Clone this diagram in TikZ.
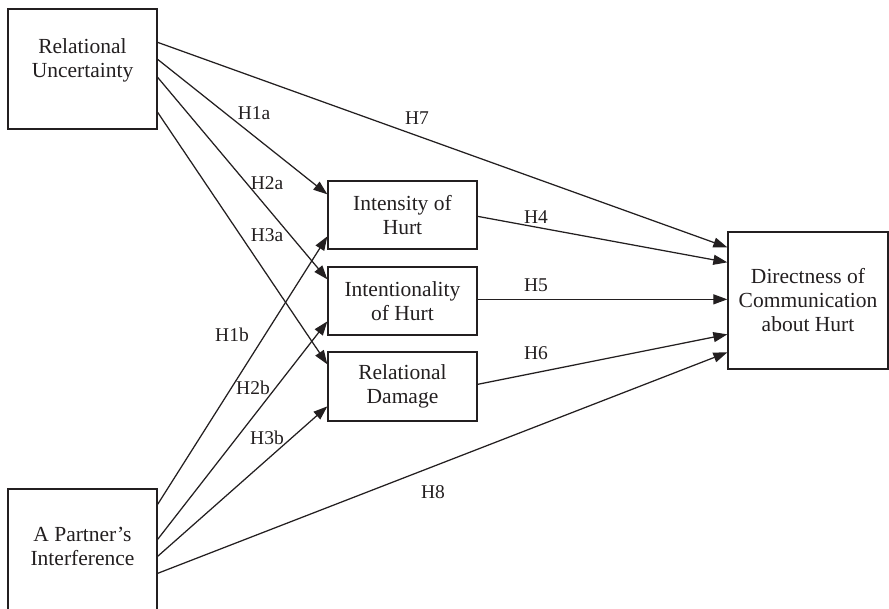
\documentclass[tikz,border=0pt]{standalone}
\usepackage{fontspec}
\setmainfont{Liberation Serif}
\usetikzlibrary{arrows.meta,calc}
\definecolor{ink}{HTML}{231F20}
\begin{document}
\begin{tikzpicture}[x=1pt,y=-1pt,
  box/.style={draw=ink,line width=1.3pt,minimum width=149pt,inner sep=0pt,align=center,text=ink,font=\fontsize{21.5}{24}\selectfont},
  btext/.style={align=center,text=ink,inner sep=0pt,font=\fontsize{21.5}{24}\selectfont},
  conn/.style={draw=ink,line width=1.25pt,-{Triangle[length=14pt,width=10pt]}},
  hlab/.style={font=\fontsize{19.5}{22}\selectfont,text=ink,inner sep=0pt}]
\useasboundingbox (0,0) rectangle (889,608);
% boxes
\node[box,minimum height=120pt] (ru) at (82.5,69) {};
\node[btext] (rut) at (82.5,60) {Relational\\Uncertainty};
\node[box,minimum height=122pt] (pi) at (82.5,550) {};
\node[btext] (pit) at (82.5,546) {A Partner’s\\Interference};
\node[box,minimum height=68pt] (int) at (402.5,215) {Intensity of\\Hurt};
\node[box,minimum height=68pt] (ion) at (402.5,301) {Intentionality\\of Hurt};
\node[box,minimum height=69pt] (dam) at (402.5,386.5) {Relational\\Damage};
\node[box,minimum width=160pt,minimum height=137pt] (dir) at (808,300.5) {Directness of\\Communication\\about Hurt};
% connectors from Relational Uncertainty
\draw[conn] ($(ru.north east)+(0,34)$) -- ($(dir.north west)+(0,16)$);
\draw[conn] ($(ru.north east)+(0,51)$) -- ($(int.north west)+(0,14)$);
\draw[conn] ($(ru.north east)+(0,69)$) -- ($(ion.north west)+(0,13)$);
\draw[conn] ($(ru.north east)+(0,104)$) -- ($(dam.north west)+(0,13)$);
% connectors from A Partner's Interference
\draw[conn] ($(pi.north east)+(0,16)$) -- ($(int.north west)+(0,56)$);
\draw[conn] ($(pi.north east)+(0,51)$) -- ($(ion.north west)+(0,55)$);
\draw[conn] ($(pi.north east)+(0,68)$) -- ($(dam.north west)+(0,55)$);
\draw[conn] ($(pi.north east)+(0,85)$) -- ($(dir.north west)+(0,121)$);
% mediators to outcome
\draw[conn] ($(int.north east)+(0,36)$) -- ($(dir.north west)+(0,31)$);
\draw[conn] ($(ion.north east)+(0,33)$) -- ($(dir.north west)+(0,68)$);
\draw[conn] ($(dam.north east)+(0,33)$) -- ($(dir.north west)+(0,103)$);
% labels
\node[hlab] (h1a) at (254,113) {H1a};
\node[hlab] (h2a) at (267,183) {H2a};
\node[hlab] (h3a) at (267,235) {H3a};
\node[hlab] (h1b) at (232,335) {H1b};
\node[hlab] (h2b) at (253,388) {H2b};
\node[hlab] (h3b) at (267,438) {H3b};
\node[hlab] (h7) at (417,118) {H7};
\node[hlab] (h4) at (536,217) {H4};
\node[hlab] (h5) at (536,285) {H5};
\node[hlab] (h6) at (536,353) {H6};
\node[hlab] (h8) at (433,492) {H8};
\end{tikzpicture}
\end{document}
